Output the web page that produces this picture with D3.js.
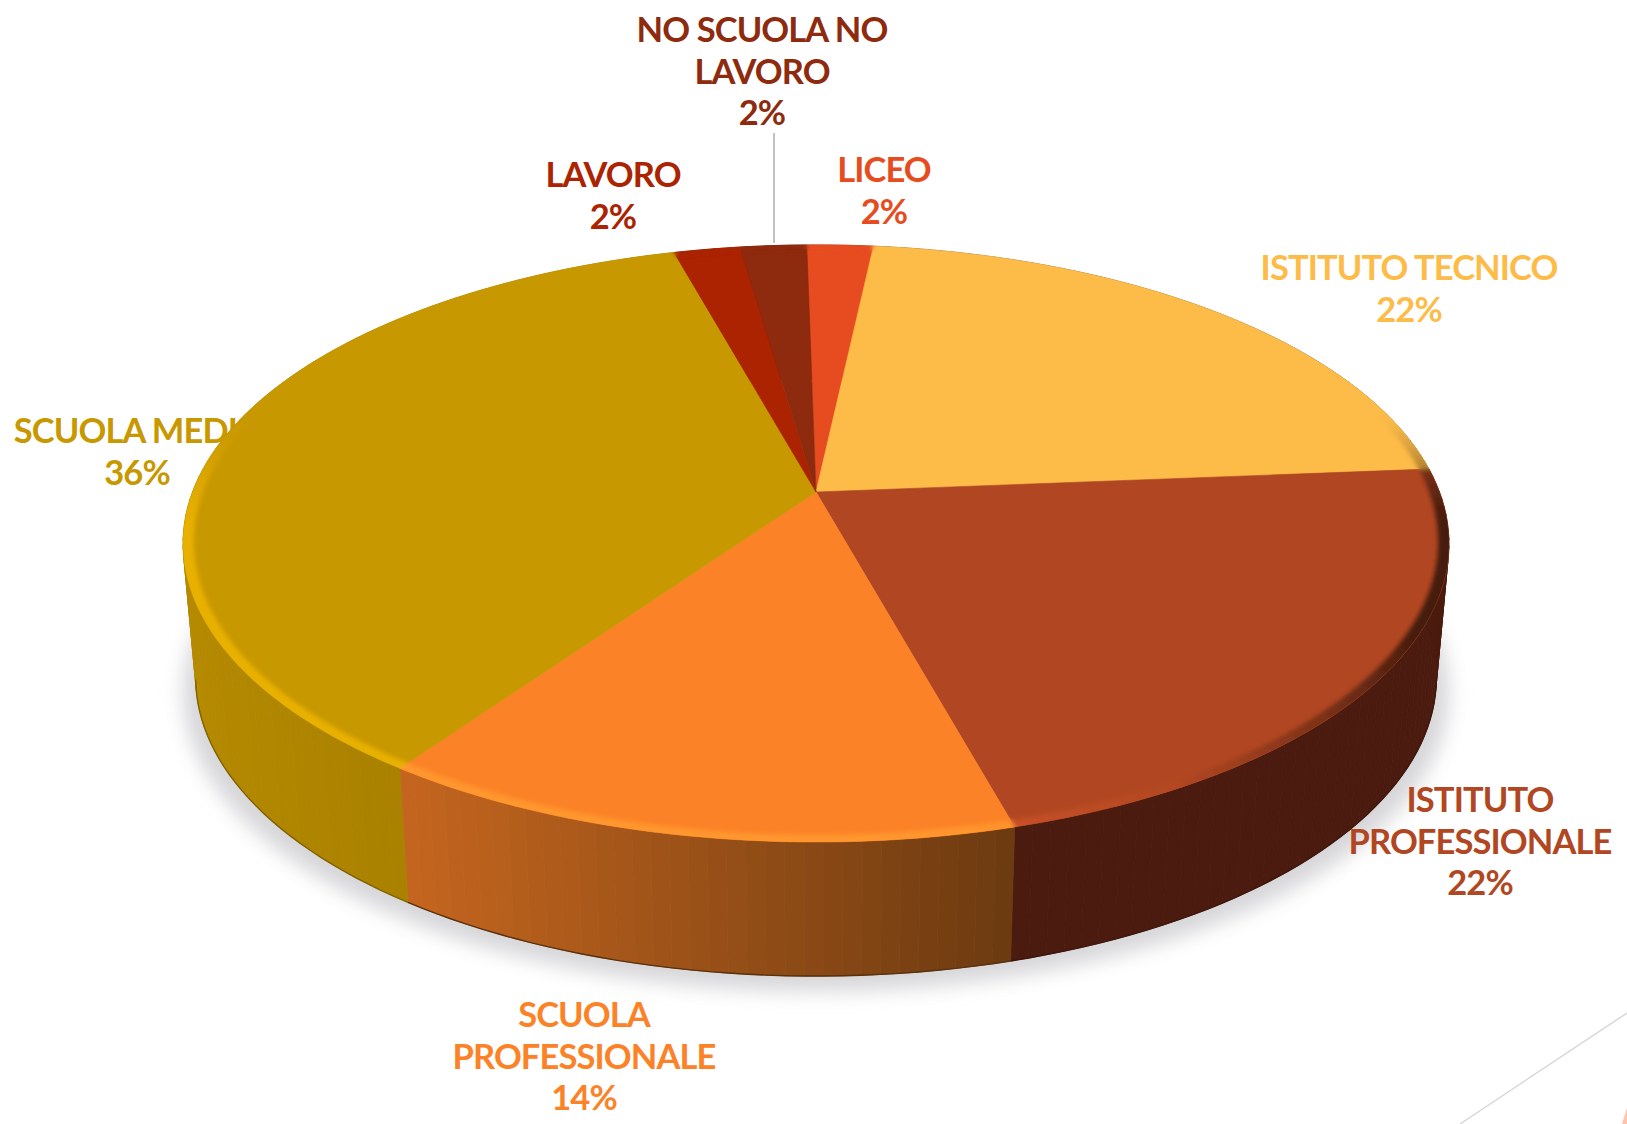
<!DOCTYPE html>
<html lang="it">
<head>
<meta charset="utf-8">
<script src="https://cdn.jsdelivr.net/npm/d3@7/dist/d3.min.js"></script>
<style>
  html, body { margin: 0; padding: 0; background: #fff; }
  svg { display: block; }
  text { font-family: Lato, "Noto Sans", sans-serif; font-weight: 700; font-size: 34.5px; letter-spacing: -0.9px; text-anchor: middle; }
</style>
</head>
<body>
<svg id="chart" width="1627" height="1124"></svg>
<script>
// Destinazioni dopo la scuola: torta 3D in prospettiva
const categories = ["LICEO", "ISTITUTO TECNICO", "ISTITUTO PROFESSIONALE", "SCUOLA PROFESSIONALE", "SCUOLA MEDIA", "LAVORO", "NO SCUOLA NO LAVORO"];
const percentages = [2, 22, 22, 14, 36, 2, 2];
const faceColors = ["#E64C20", "#FDBB48", "#B14722", "#FC8227", "#C89800", "#AB2300", "#8E2A0D"];
const wallLeft = ["#8a3416", "#6e5220", "#4a1b0e", "#c5661f", "#b58a00", "#7a1800", "#5f1c08"];
const wallRight = ["#8a3416", "#6e5220", "#4a1b0e", "#6c3a10", "#9b7500", "#7a1800", "#5f1c08"];

// Righe di testo di ogni etichetta
const labelLines = [
  ["LICEO"],
  ["ISTITUTO TECNICO"],
  ["ISTITUTO", "PROFESSIONALE"],
  ["SCUOLA", "PROFESSIONALE"],
  ["SCUOLA MEDIA"],
  ["LAVORO"],
  ["NO SCUOLA NO", "LAVORO"]
];
// Centro orizzontale e linea di base della prima riga
const labelX = [884, 1409, 1480, 584, 137, 613, 762];
const labelY = [182, 280, 812, 1027, 443, 187, 42];
const lineGap = 41.5;

const svg = d3.select("#chart");
const defs = svg.append("defs");
defs.append("filter").attr("id", "soft").attr("x", "-5%").attr("y", "-5%").attr("width", "110%").attr("height", "110%")
  .append("feGaussianBlur").attr("stdDeviation", 2.2);
defs.append("filter").attr("id", "shadow").attr("x", "-10%").attr("y", "-10%").attr("width", "120%").attr("height", "120%")
  .append("feGaussianBlur").attr("stdDeviation", 10);

// Proiezione prospettica del disco: (raggio, angolo orario dalle ore 12) -> schermo
const cx = 816, cy = 492, persp = 0.1724, radX = 623.5, radY = 289.7;
const project = (r, a) => {
  const u = r * Math.sin(a), v = -r * Math.cos(a), w = 1 - persp * v;
  return [cx + radX * u / w, cy + radY * v / w];
};
// Anello inferiore del cilindro
const depth = 134, taper = 0.98;
const drop = p => [cx + taper * (p[0] - cx), p[1] + depth];

const line = d3.line();
const step = Math.PI / 120;
const samples = (a0, a1) => {
  const n = Math.max(1, Math.ceil((a1 - a0) / step));
  return d3.range(n + 1).map(i => a0 + (a1 - a0) * i / n);
};
const smooth = (lo, hi, x) => {
  const t = Math.max(0, Math.min(1, (x - lo) / (hi - lo)));
  return t * t * (3 - 2 * t);
};

const rotation = -Math.PI / 180;
const arcs = d3.pie().sort(null).startAngle(rotation).endAngle(2 * Math.PI + rotation)(percentages);
const fullRing = samples(0, 2 * Math.PI);

// Ombra morbida sotto il cilindro
svg.append("path")
  .attr("d", line(fullRing.map(a => {
    const p = drop(project(1, a));
    return [cx + 1.02 * (p[0] - cx), p[1] + 15];
  })) + "Z")
  .attr("fill", "#d6d6d9")
  .attr("filter", "url(#shadow)");

const drawLabel = (sel, i) => {
  const text = sel.append("text").attr("fill", faceColors[i]);
  const rows = labelLines[i].concat(percentages[i] + "%");
  rows.forEach((row, k) => {
    text.append("tspan").attr("x", labelX[i]).attr("y", labelY[i] + k * lineGap).text(row);
  });
};

// SCUOLA MEDIA resta parzialmente coperta dal cilindro
drawLabel(svg.append("g"), 4);

// Pareti laterali a fasce verticali
const walls = svg.append("g");
arcs.forEach((d, i) => {
  const as = samples(d.startAngle, d.endAngle);
  const xs = as.map(a => project(1, a)[0]);
  const shade = d3.scaleLinear().domain(d3.extent(xs)).range([wallLeft[i], wallRight[i]]).interpolate(d3.interpolateRgb);
  d3.pairs(as).forEach(([a0, a1]) => {
    const t0 = project(1, a0), t1 = project(1, a1);
    const c = shade((t0[0] + t1[0]) / 2);
    walls.append("path")
      .attr("d", line([t0, t1, drop(t1), drop(t0)]) + "Z")
      .attr("fill", c).attr("stroke", c).attr("stroke-width", 0.8);
  });
});
// Bordo inferiore più scuro, solo sulla parte rivolta verso chi guarda
arcs.forEach((d, i) => {
  const front = samples(d.startAngle, d.endAngle).filter(a => -Math.cos(a) > persp);
  if (front.length < 2) return;
  walls.append("path")
    .attr("d", line(front.map(a => drop(project(1, a)))))
    .attr("fill", "none")
    .attr("stroke", d3.rgb(wallRight[i]).darker(0.5))
    .attr("stroke-width", 1.4);
});

// Facce superiori delle fette
const faces = svg.append("g");
arcs.forEach((d, i) => {
  const rim = samples(d.startAngle, d.endAngle).map(a => project(1, a));
  faces.append("path")
    .attr("d", line([[cx, cy], ...rim]) + "Z")
    .attr("fill", faceColors[i])
    .attr("stroke", faceColors[i])
    .attr("stroke-width", 0.6);
});

// Smusso lungo il bordo: chiaro a sinistra, scuro a destra, assente sul retro
defs.append("clipPath").attr("id", "disc").append("path")
  .attr("d", line(fullRing.map(a => project(1, a))) + "Z");
const bevel = svg.append("g").attr("clip-path", "url(#disc)").append("g").attr("filter", "url(#soft)");
arcs.forEach((d, i) => {
  d3.pairs(samples(d.startAngle, d.endAngle)).forEach(([a0, a1]) => {
    const mid = (a0 + a1) / 2;
    const t = Math.cos(mid - 240 * Math.PI / 180);
    const reach = smooth(-0.3, 0.15, -Math.cos(mid));
    const base = d3.rgb(faceColors[i]);
    const amount = t > 0 ? Math.min(1, t * 3) * reach : Math.min(1, -t * 1.8) * reach;
    const c = t > 0
      ? d3.interpolateRgb(base, base.brighter(0.42))(amount)
      : d3.interpolateRgb(base, base.darker(2.7))(amount);
    bevel.append("path")
      .attr("d", line([project(0.984, a0), project(0.984, a1), project(1.02, a1), project(1.02, a0)]) + "Z")
      .attr("fill", c).attr("stroke", c).attr("stroke-width", 0.8);
  });
});

// Filetto guida verso NO SCUOLA NO LAVORO
svg.append("line")
  .attr("x1", 774).attr("x2", 774).attr("y1", 133).attr("y2", 243)
  .attr("stroke", "#acacac").attr("stroke-width", 1.5);

// Etichette restanti
const labels = svg.append("g");
categories.forEach((c, i) => { if (i !== 4) drawLabel(labels, i); });

// Elementi decorativi nell'angolo della diapositiva
svg.append("line")
  .attr("x1", 1460).attr("y1", 1124).attr("x2", 1627).attr("y2", 1013)
  .attr("stroke", "#d8d8d8").attr("stroke-width", 1.5);
svg.append("path")
  .attr("d", "M1627,1108L1627,1124L1622,1124Z")
  .attr("fill", "#fcc4b0");
</script>
</body>
</html>
